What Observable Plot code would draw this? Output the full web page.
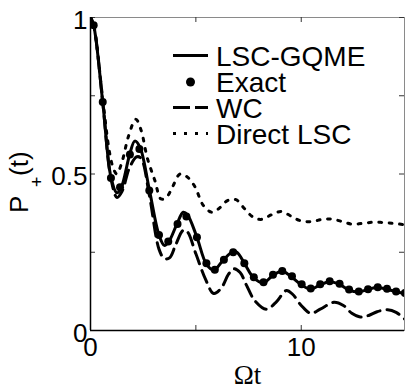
<!DOCTYPE html>
<html><head><meta charset="utf-8">
<script src="https://cdn.jsdelivr.net/npm/d3@7"></script>
<script src="https://cdn.jsdelivr.net/npm/@observablehq/plot@0.6"></script>
<style>body{margin:0;background:#fff} svg{display:block}</style>
</head><body><div id="chart"></div>
<script>
// LSC-GQME (solid)
const gqmeT = [0, 0.15, 0.58, 0.97, 1.25, 1.45, 1.85, 2.1, 2.35, 2.8, 3.25, 3.5, 3.7, 4.1, 4.4, 4.6, 5.05, 5.5, 5.85, 6.3, 6.75, 6.95, 7.3, 7.75, 8.2, 8.65, 9.1, 9.5, 10.0, 10.45, 10.9, 11.35, 11.8, 12.25, 12.7, 13.15, 13.6, 14.05, 14.5, 15];
const gqmeP = [1.0, 0.975, 0.73, 0.49, 0.44, 0.455, 0.56, 0.605, 0.585, 0.447, 0.305, 0.272, 0.282, 0.34, 0.378, 0.37, 0.298, 0.212, 0.193, 0.225, 0.252, 0.25, 0.215, 0.168, 0.152, 0.176, 0.189, 0.173, 0.146, 0.132, 0.146, 0.156, 0.148, 0.13, 0.123, 0.131, 0.137, 0.132, 0.124, 0.117];
// Exact (dots)
const exactT = [0.15, 0.58, 0.97, 1.4, 1.87, 2.32, 2.79, 3.25, 3.69, 4.13, 4.55, 5.05, 5.5, 5.9, 6.33, 6.77, 7.3, 7.75, 8.21, 8.66, 9.1, 9.56, 10.02, 10.45, 10.9, 11.35, 11.82, 12.27, 12.73, 13.17, 13.63, 14.07, 14.5, 14.92];
const exactP = [0.975, 0.73, 0.487, 0.458, 0.562, 0.58, 0.447, 0.305, 0.284, 0.34, 0.364, 0.298, 0.215, 0.194, 0.226, 0.25, 0.215, 0.17, 0.154, 0.178, 0.19, 0.173, 0.148, 0.134, 0.148, 0.157, 0.149, 0.131, 0.125, 0.132, 0.138, 0.133, 0.125, 0.12];
// WC (dashed)
const wcT = [0, 0.15, 0.58, 0.97, 1.26, 1.5, 1.85, 2.2, 2.4, 2.8, 3.25, 3.5, 3.75, 4.05, 4.4, 4.6, 5.0, 5.45, 5.85, 6.2, 6.55, 6.8, 7.1, 7.4, 7.8, 8.35, 8.8, 9.3, 9.6, 10.0, 10.45, 10.9, 11.55, 12.0, 12.4, 12.8, 13.2, 13.6, 14.1, 14.5, 14.9];
const wcP = [1.0, 0.975, 0.73, 0.485, 0.425, 0.445, 0.52, 0.555, 0.55, 0.43, 0.26, 0.23, 0.232, 0.275, 0.32, 0.315, 0.245, 0.165, 0.118, 0.135, 0.18, 0.197, 0.185, 0.145, 0.095, 0.068, 0.09, 0.128, 0.115, 0.08, 0.055, 0.068, 0.09, 0.08, 0.055, 0.043, 0.048, 0.06, 0.066, 0.058, 0.037];
// Direct LSC (dotted)
const lscT = [0, 0.15, 0.58, 0.9, 1.1, 1.25, 1.5, 1.8, 2.15, 2.4, 2.7, 3.05, 3.35, 3.6, 3.9, 4.25, 4.6, 4.95, 5.35, 5.75, 6.1, 6.5, 6.9, 7.3, 7.7, 8.1, 8.6, 9.05, 9.5, 9.95, 10.5, 11.0, 11.45, 11.95, 12.4, 12.9, 13.4, 13.9, 14.4, 14.9];
const lscP = [1.0, 0.975, 0.74, 0.57, 0.515, 0.5, 0.54, 0.62, 0.675, 0.64, 0.55, 0.48, 0.42, 0.425, 0.46, 0.5, 0.49, 0.46, 0.4, 0.378, 0.39, 0.415, 0.418, 0.39, 0.363, 0.355, 0.37, 0.38, 0.366, 0.351, 0.348, 0.355, 0.356, 0.348, 0.34, 0.342, 0.346, 0.345, 0.342, 0.338];

const xTicks = [0, 5, 10];
const xTickLabels = [0, 10];
const yTicks = [0, 0.25, 0.5, 0.75, 1];
const yTickLabels = [0, 0.5, 1];
const seriesNames = ["LSC-GQME", "Exact", "WC", "Direct LSC"];
const xLabel = "Ωt";

const zip = (T, P) => T.map((t, i) => ({t, p: P[i]}));
const gqme = zip(gqmeT, gqmeP), exact = zip(exactT, exactP), wc = zip(wcT, wcP), lsc = zip(lscT, lscP);

const W = 406, H = 387, mL = 90, mR = 2, mT = 17, mB = 57, tick = 5;
const innerW = W - mL - mR, innerH = H - mT - mB;
const font = "'Liberation Sans', Arial, Helvetica, sans-serif";
const svgNode = Plot.plot({
  width: W, height: H,
  marginLeft: mL, marginRight: mR, marginTop: mT, marginBottom: mB,
  x: {domain: [0, 14.9]},
  y: {domain: [0, 1]},
  style: {fontFamily: font, fontSize: "26px", background: "#fff", color: "#000"},
  marks: [
    Plot.frame({stroke: "#8a8a8a", strokeWidth: 1}),
    // inward ticks on all four sides
    Plot.ruleX(xTicks, {insetTop: innerH - tick, stroke: "#333"}),
    Plot.ruleX(xTicks, {insetBottom: innerH - tick, stroke: "#333"}),
    Plot.ruleY(yTicks, {insetRight: innerW - tick, stroke: "#333"}),
    Plot.ruleY(yTicks, {insetLeft: innerW - tick, stroke: "#333"}),
    Plot.axisX(xTickLabels, {anchor: "bottom", tickSize: 0, tickPadding: 7, label: null, tickFormat: d => String(d)}),
    Plot.axisY(yTickLabels, {anchor: "left", tickSize: 0, tickPadding: 3, label: null, tickFormat: d => String(d), dy: 3}),
    Plot.ruleX([0], {stroke: "#000", strokeWidth: 1.5}),
    Plot.ruleY([0], {stroke: "#000", strokeWidth: 1.5}),
    Plot.line(lsc, {x: "t", y: "p", stroke: "#000", strokeWidth: 3, strokeDasharray: "2.8,7.6", curve: "catmull-rom", clip: true}),
    Plot.line(wc, {x: "t", y: "p", stroke: "#000", strokeWidth: 3, strokeDasharray: "13,7", curve: "catmull-rom", clip: true}),
    Plot.line(gqme, {x: "t", y: "p", stroke: "#000", strokeWidth: 3, curve: "catmull-rom", clip: true}),
    Plot.dot(exact, {x: "t", y: "p", r: 4, fill: "#000", stroke: "none", clip: true})
  ]
});
document.getElementById("chart").appendChild(svgNode);

const svg = d3.select(svgNode);
// y label P_+(t)
const yl = svg.append("text").attr("transform", "translate(28,213) rotate(-90)")
  .attr("text-anchor", "start")
  .attr("font-family", font).attr("font-size", 26).attr("fill", "#000");
yl.append("tspan").text("P");
yl.append("tspan").attr("x", 26).attr("dy", 15).attr("font-size", 18).text("+");
yl.append("tspan").attr("x", 37).attr("dy", -15).text("(t)");
// x label
svg.append("text").attr("x", 247.5).attr("y", 384).attr("text-anchor", "middle")
  .attr("font-family", "'Liberation Serif', 'Times New Roman', serif").attr("font-size", 27).attr("fill", "#000").text(xLabel);

// legend
const lg = svg.append("g").attr("font-family", font).attr("font-size", 28).attr("fill", "#000").attr("text-anchor", "start");
const rows = [55.5, 82, 107.5, 133.5];
const x0 = 173, x1 = 208, tx = 216;
lg.append("line").attr("x1", x0).attr("x2", x1).attr("y1", rows[0]).attr("y2", rows[0]).attr("stroke", "#000").attr("stroke-width", 3);
lg.append("circle").attr("cx", 190.5).attr("cy", rows[1]).attr("r", 4.5).attr("fill", "#000");
lg.append("line").attr("x1", x0).attr("x2", x1).attr("y1", rows[2]).attr("y2", rows[2]).attr("stroke", "#000").attr("stroke-width", 3).attr("stroke-dasharray", "17,5");
lg.append("line").attr("x1", x0).attr("x2", x1).attr("y1", rows[3]).attr("y2", rows[3]).attr("stroke", "#000").attr("stroke-width", 3).attr("stroke-dasharray", "3,8");
seriesNames.forEach((n, i) => {
  lg.append("text").attr("x", tx).attr("y", rows[i]).attr("dy", "0.36em").text(n);
});
</script>
</body></html>
